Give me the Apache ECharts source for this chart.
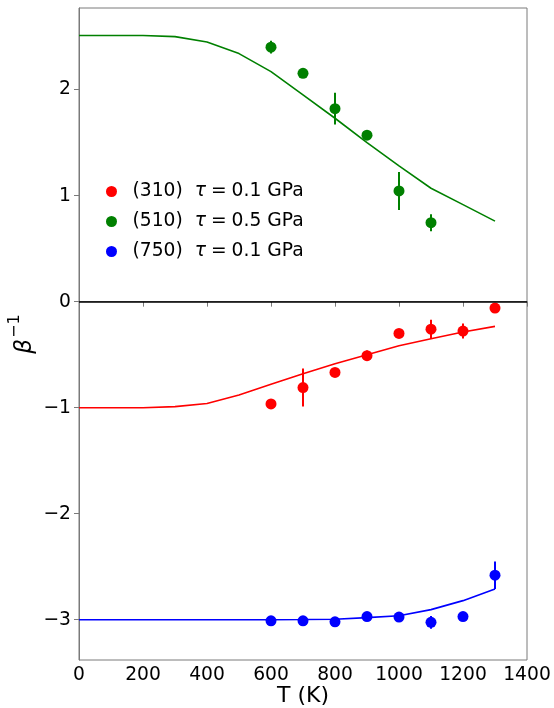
<!DOCTYPE html>
<html>
<head>
<meta charset="utf-8">
<script src="https://cdn.jsdelivr.net/npm/echarts@6/dist/echarts.min.js"></script>
<style>
html,body{margin:0;padding:0;background:#fff;overflow:hidden;}
#main{width:554px;height:708px;}
</style>
</head>
<body>
<div id="main"></div>
<script>
// fitted curves, T = 0..1300 step 100
var lineT = [0,100,200,300,400,500,600,700,800,900,1000,1100,1200,1300];
var green_line = [2.51,2.51,2.51,2.50,2.45,2.34,2.17,1.95,1.73,1.50,1.28,1.07,0.915,0.76];
var red_line = [-1.0,-1.0,-1.0,-0.99,-0.96,-0.88,-0.78,-0.68,-0.585,-0.50,-0.415,-0.35,-0.286,-0.233];
var blue_line = [-3.0,-3.0,-3.0,-3.0,-3.0,-3.0,-3.0,-2.998,-2.995,-2.98,-2.963,-2.905,-2.82,-2.71];

// measured points
var green_T = [600,700,800,900,1000,1100];
var green_val = [2.40,2.154,1.82,1.57,1.044,0.745];
var green_err = [0.06,0.02,0.15,0.02,0.18,0.08];

var red_T = [600,700,800,900,1000,1100,1200,1300];
var red_val = [-0.965,-0.81,-0.667,-0.51,-0.30,-0.26,-0.277,-0.06];
var red_err = [0.02,0.18,0.02,0.05,0.02,0.09,0.07,0.02];

var blue_T = [600,700,800,900,1000,1100,1200,1300];
var blue_val = [-3.01,-3.01,-3.02,-2.97,-2.975,-3.025,-2.97,-2.58];
var blue_err = [0.02,0.02,0.02,0.02,0.02,0.06,0.04,0.13];

var yTicks = [-3,-2,-1,0,1,2];
var legendText = {
    '(310)': '(310) {i|τ}{e|=}0.1 GPa',
    '(510)': '(510) {i|τ}{e|=}0.5 GPa',
    '(750)': '(750) {i|τ}{e|=}0.1 GPa'
};

var FONT = 'DejaVu Sans';
var FS = 18.7;
var RED = '#ff0000', GREEN = '#008000', BLUE = '#0000ff';
var SPINE = '#7a7a7a';

function zip(xs, ys){
    var out = [];
    for (var i=0;i<xs.length;i++) out.push([xs[i], ys[i]]);
    return out;
}
function zip3(xs, ys, es){
    var out = [];
    for (var i=0;i<xs.length;i++) out.push([xs[i], ys[i], es[i]]);
    return out;
}

function errBars(name, color, data){
    return {
        name: name + '_err',
        type: 'custom',
        silent: true,
        z: 3,
        data: data,
        renderItem: function(params, api){
            var x = api.value(0), y = api.value(1), e = api.value(2);
            var p1 = api.coord([x, y - e]);
            var p2 = api.coord([x, y + e]);
            return {
                type: 'line',
                shape: {x1: p1[0], y1: p1[1], x2: p2[0], y2: p2[1]},
                style: {stroke: color, lineWidth: 2}
            };
        }
    };
}
function curve(color, ys, extra){
    var s = {
        type: 'line',
        data: zip(lineT, ys),
        showSymbol: false,
        symbol: 'none',
        lineStyle: {color: color, width: 1.6},
        silent: true,
        z: 2
    };
    if (extra) for (var k in extra) s[k] = extra[k];
    return s;
}
function points(name, color, xs, ys){
    return {
        name: name,
        type: 'scatter',
        data: zip(xs, ys),
        symbol: 'circle',
        symbolSize: 11,
        itemStyle: {color: color, opacity: 1},
        z: 4
    };
}

var chart = echarts.init(document.getElementById('main'));
chart.setOption({
    backgroundColor: '#fff',
    animation: false,
    textStyle: {fontFamily: FONT},
    grid: {
        left: 79, right: 27, top: 8, bottom: 48,
        outerBoundsMode: 'none',
        containLabel: false,
        show: true, borderColor: SPINE, borderWidth: 1, backgroundColor: 'transparent'
    },
    legend: {
        orient: 'vertical',
        left: 101,
        top: 177,
        itemGap: 11,
        itemWidth: 26,
        itemHeight: 11,
        data: [
            {name: '(310)', icon: 'circle'},
            {name: '(510)', icon: 'circle'},
            {name: '(750)', icon: 'circle'}
        ],
        formatter: function(name){ return legendText[name]; },
        textStyle: {
            fontFamily: FONT, fontSize: FS, color: '#000',
            padding: [0, 0, 0, 3],
            rich: {
                i: {fontFamily: FONT, fontSize: FS, fontStyle: 'italic', color: '#000', padding: [0, 0, 0, 6]},
                e: {fontFamily: FONT, fontSize: FS, color: '#000', padding: [0, 5, 0, 5]}
            }
        }
    },
    xAxis: {
        type: 'value',
        min: 0, max: 1400, interval: 200,
        name: 'T (K)',
        nameLocation: 'middle',
        nameGap: 25,
        nameMoveOverlap: false,
        nameTextStyle: {fontFamily: FONT, fontSize: 22, color: '#000', verticalAlign: 'top'},
        axisLine: {show: true, lineStyle: {color: SPINE, width: 1}},
        axisTick: {show: true, inside: false, length: 5, lineStyle: {color: SPINE}},
        axisLabel: {
            fontFamily: FONT, fontSize: FS, color: '#000', margin: 6,
            formatter: function(v){ return String(v); }
        },
        splitLine: {show: false}
    },
    yAxis: {
        type: 'value',
        min: -3.38, max: 2.77,
        name: '{b|β}{s|−1}',
        nameLocation: 'middle',
        nameRotate: 90,
        nameGap: 42,
        nameMoveOverlap: false,
        nameTextStyle: {
            fontFamily: FONT, fontSize: 22, color: '#000',
            rich: {
                b: {fontFamily: FONT, fontSize: 23, fontStyle: 'italic', color: '#000', verticalAlign: 'bottom', lineHeight: 30},
                s: {fontFamily: FONT, fontSize: 16, color: '#000', verticalAlign: 'top', lineHeight: 30, padding: [0, 0, 12, 1]}
            }
        },
        axisLine: {show: true, lineStyle: {color: SPINE, width: 1}},
        axisTick: {show: true, length: 5, lineStyle: {color: SPINE}, customValues: yTicks},
        axisLabel: {
            fontFamily: FONT, fontSize: FS, color: '#000', margin: 8,
            customValues: yTicks,
            formatter: function(v){ return String(v).replace('-', '\u2212'); }
        },
        splitLine: {show: false}
    },
    series: [
        curve(GREEN, green_line, {
            markLine: {
                silent: true,
                symbol: ['none','none'],
                label: {show: false},
                lineStyle: {color: '#000', width: 1.6, type: 'solid'},
                data: [{yAxis: 0}]
            }
        }),
        curve(RED, red_line),
        curve(BLUE, blue_line),
        errBars('(310)', RED, zip3(red_T, red_val, red_err)),
        errBars('(510)', GREEN, zip3(green_T, green_val, green_err)),
        errBars('(750)', BLUE, zip3(blue_T, blue_val, blue_err)),
        points('(310)', RED, red_T, red_val),
        points('(510)', GREEN, green_T, green_val),
        points('(750)', BLUE, blue_T, blue_val)
    ]
});
</script>
</body>
</html>
